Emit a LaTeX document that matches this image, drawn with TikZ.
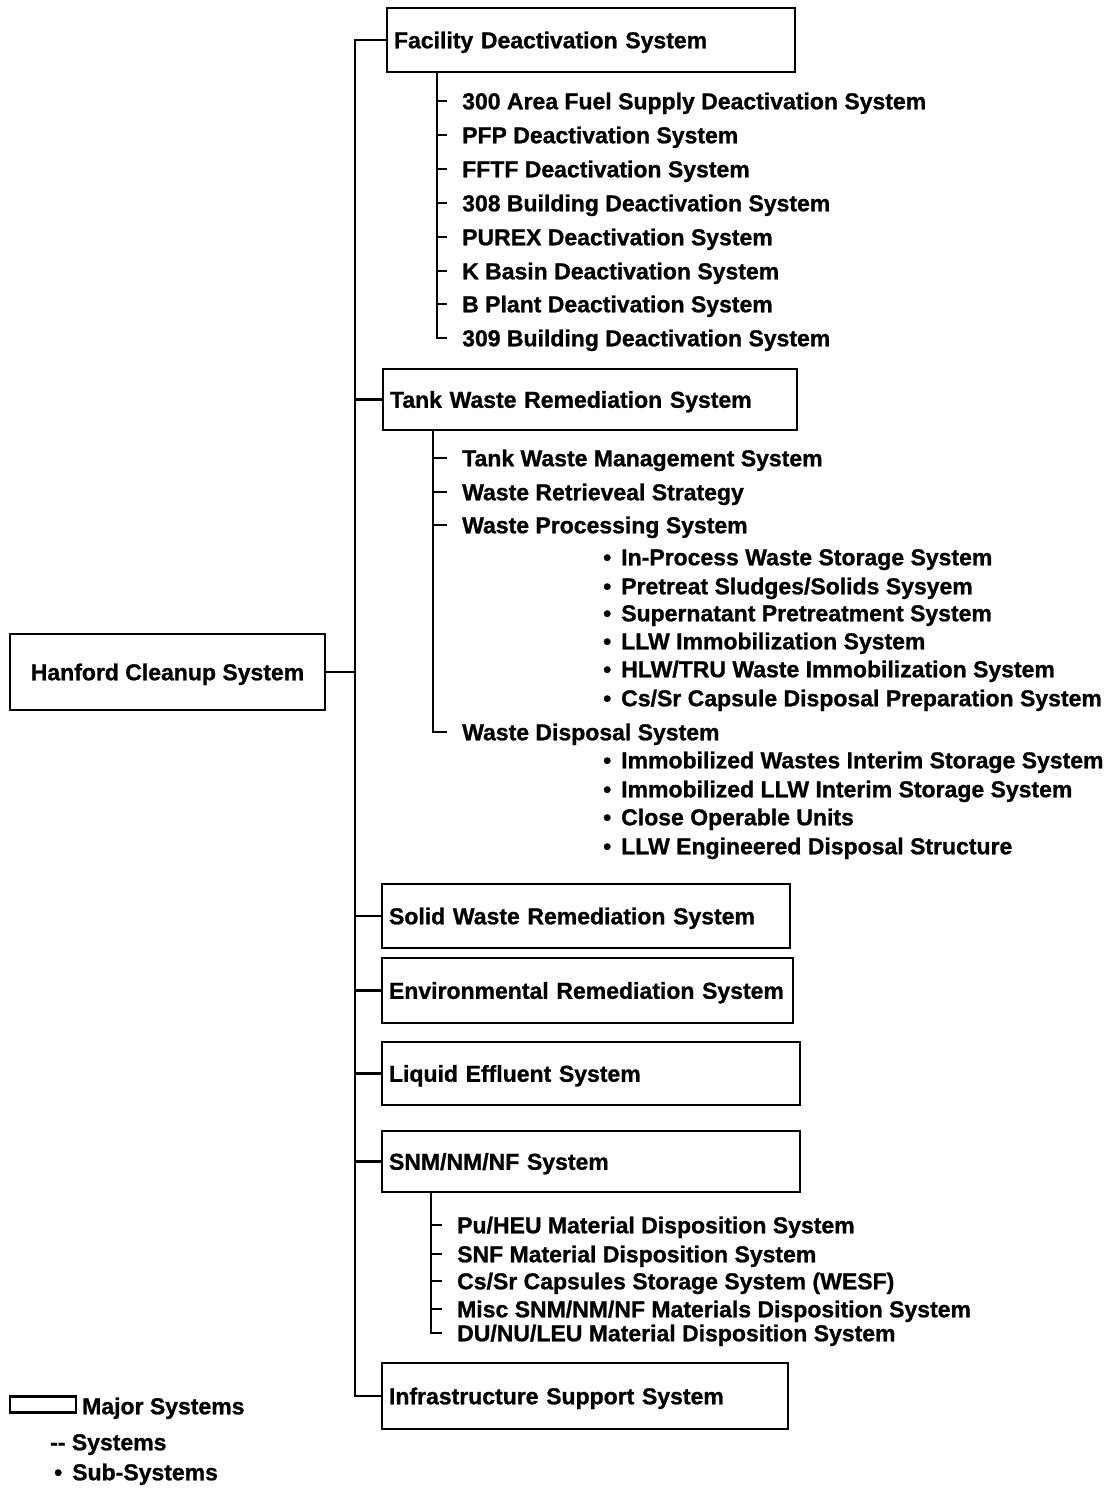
\documentclass[tikz,border=0pt]{standalone}
\usepackage{fontspec}
\setmainfont{Liberation Sans}[BoldFeatures={FakeBold=1}]
\newcommand\hcfont{\bfseries\fontsize{23}{27}\selectfont}
\tikzset{
  mbox/.style={draw, line width=2.6pt, inner xsep=7pt, inner ysep=0pt, align=left,
    text height=16.5pt, text depth=0pt, font=\hcfont},
  conn/.style={line width=2.2pt},
  item/.style={inner sep=0pt, anchor=west, text height=16.5pt, text depth=0pt, font=\hcfont},
}
\begin{document}
\begin{tikzpicture}[x=1pt,y=-1pt]
\useasboundingbox (0,0) rectangle (1114,1489);

% root
\node[mbox, align=center, minimum width=315pt, minimum height=76pt] (han) at (167.5,672) {Hanford Cleanup System};

% major systems
\node[mbox, text width=394pt, minimum height=64pt] (fac) at (591,40) {Facility Deactivation System};
\node[mbox, text width=400pt, minimum height=61pt] (tank) at (590,399.5) {Tank Waste Remediation System};
\node[mbox, text width=394pt, minimum height=64pt] (solid) at (586,916) {Solid Waste Remediation System};
\node[mbox, text width=397pt, minimum height=65pt] (env) at (587.5,990.5) {Environmental Remediation System};
\node[mbox, text width=404pt, minimum height=63pt] (liq) at (591,1073.5) {Liquid Effluent System};
\node[mbox, text width=404pt, minimum height=61pt] (snm) at (591,1161.5) {SNM/NM/NF System};
\node[mbox, text width=392pt, minimum height=66pt] (infra) at (585,1396) {Infrastructure Support System};

% main trunk
\coordinate (mx) at (355,0);
\draw[conn] (han.east) -- (han.east -| mx);
\draw[conn] (fac.west) -- (fac.west -| mx) -- (infra.west -| mx) -- (infra.west);
\foreach \b in {tank,solid,env,liq,snm} \draw[conn] (\b.west -| mx) -- (\b.west);

% facility systems
\node[item] (f1) at (462,101) {300 Area Fuel Supply Deactivation System};
\node[item] (f2) at (462,135) {PFP Deactivation System};
\node[item] (f3) at (462,169) {FFTF Deactivation System};
\node[item] (f4) at (462,203) {308 Building Deactivation System};
\node[item] (f5) at (462,237) {PUREX Deactivation System};
\node[item] (f6) at (462,271) {K Basin Deactivation System};
\node[item] (f7) at (462,304) {B Plant Deactivation System};
\node[item] (f8) at (462,338) {309 Building Deactivation System};
\coordinate (ft) at (437,0);
\draw[conn] (fac.south -| ft) |- ([xshift=-15pt]f8.west);
\foreach \i in {1,...,7} \draw[conn] (f\i.west -| ft) -- ([xshift=-15pt]f\i.west);

% tank waste systems
\node[item] (t1) at (462,458) {Tank Waste Management System};
\node[item] (t2) at (462,492) {Waste Retrieveal Strategy};
\node[item] (t3) at (462,525) {Waste Processing System};
\node[item] (t4) at (462,732) {Waste Disposal System};
\coordinate (tt) at (433,0);
\draw[conn] (tank.south -| tt) |- ([xshift=-15pt]t4.west);
\foreach \i in {1,2,3} \draw[conn] (t\i.west -| tt) -- ([xshift=-15pt]t\i.west);

% sub-systems
\node[item] (s1) at (603,557) {•\hspace{10pt}In-Process Waste Storage System};
\node[item] (s2) at (603,586) {•\hspace{10pt}Pretreat Sludges/Solids Sysyem};
\node[item] (s3) at (603,613) {•\hspace{10pt}Supernatant Pretreatment System};
\node[item] (s4) at (603,641) {•\hspace{10pt}LLW Immobilization System};
\node[item] (s5) at (603,669) {•\hspace{10pt}HLW/TRU Waste Immobilization System};
\node[item] (s6) at (603,698) {•\hspace{10pt}Cs/Sr Capsule Disposal Preparation System};
\node[item] (s7) at (603,760) {•\hspace{10pt}Immobilized Wastes Interim Storage System};
\node[item] (s8) at (603,789) {•\hspace{10pt}Immobilized LLW Interim Storage System};
\node[item] (s9) at (603,817) {•\hspace{10pt}Close Operable Units};
\node[item] (s10) at (603,846) {•\hspace{10pt}LLW Engineered Disposal Structure};

% SNM systems
\node[item] (n1) at (457,1225) {Pu/HEU Material Disposition System};
\node[item] (n2) at (457,1254) {SNF Material Disposition System};
\node[item] (n3) at (457,1281) {Cs/Sr Capsules Storage System (WESF)};
\node[item] (n4) at (457,1309) {Misc SNM/NM/NF Materials Disposition System};
\node[item] (n5) at (457,1333) {DU/NU/LEU Material Disposition System};
\coordinate (nt) at (431,0);
\draw[conn] (snm.south -| nt) |- ([xshift=-15pt]n5.west);
\foreach \i in {1,...,4} \draw[conn] (n\i.west -| nt) -- ([xshift=-15pt]n\i.west);

% legend
\node[draw, line width=2.2pt, minimum width=66pt, minimum height=16pt, inner sep=0pt] (lgbox) at (43,1404.5) {};
\node[item] (lg1) at (82,1406) {Major Systems};
\node[item] (lg2) at (50,1442) {-{}- Systems};
\node[item] (lg3) at (54,1472) {•\hspace{10pt}Sub-Systems};
\end{tikzpicture}
\end{document}
